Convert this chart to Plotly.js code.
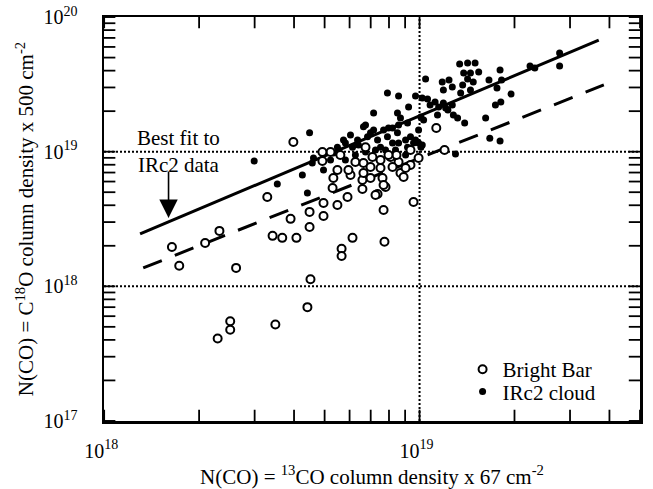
<!DOCTYPE html>
<html>
<head>
<meta charset="utf-8">
<script src="https://cdn.plot.ly/plotly-3.0.1.min.js"></script>
<style>html,body{margin:0;padding:0;background:#fff;}#chart{width:653px;height:489px;}</style>
</head>
<body>
<div id="chart"></div>
<script>
// values in units of 1e18 cm^-2
const brightBarX = [1.64,1.73,2.09,2.32,2.62,2.29,2.51,2.51,3.49,4.41,4.51,3.42,3.67,4.07,4.48,3.90,3.98,3.29,4.48,4.96,4.96,5.30,5.33,4.92,5.49,5.66,5.66,6.13,7.74,9.57,7.69,5.91,6.59,7.36,7.80,5.61,6.04,6.26,6.64,6.74,7.09,6.99,7.52,7.52,8.09,7.63,6.99,6.59,7.25,5.49,8.58,8.70,9.36,9.36,9.93,9.03,8.45,11.3,12.0,5.22,5.95,7.97,8.21,8.90,4.92,7.69,6.64];
const brightBarY = [1.96,1.42,2.10,2.58,1.37,0.41,0.55,0.475,0.52,0.70,1.13,2.37,2.29,2.29,2.76,3.17,11.8,4.61,3.57,4.16,3.33,5.38,6.38,8.53,7.31,1.90,1.68,2.29,2.14,4.23,3.69,4.61,5.29,4.85,5.47,9.45,6.71,8.38,8.25,10.8,9.13,7.70,8.68,7.57,9.13,6.38,6.38,6.17,4.77,4.02,8.38,6.95,10.3,7.97,8.98,7.57,9.45,15.0,10.3,9.95,7.31,9.45,7.70,6.49,9.95,5.66,6.95];

const irc2X = [2.99,3.54,4.41,4.25,4.48,4.61,4.57,4.96,5.53,5.82,6.40,8.58,9.93,9.16,10.45,7.91,8.58,9.23,9.71,10.2,7.15,8.51,6.64,7.15,7.69,7.97,8.58,9.16,10.1,9.93,6.04,5.74,6.36,7.36,9.71,6.84,9.36,5.49,10.6,10.8,11.2,11.4,11.5,11.9,12.3,12.7,12.8,13.2,13.9,13.4,14.2,15.0,13.8,14.5,15.4,14.2,14.8,13.7,12.4,11.8,12.7,11.9,13.5,14.5,16.6,18.0,17.6,18.2,19.5,17.4,18.1,16.2,16.7,18.0,13.0,10.3,10.2,12.1,27.8,27.8,22.4,23.2,6.74,6.99,8.21,8.70,8.51,9.03,9.57,10.1,5.33,6.13,7.52,7.91,8.21,5.22,5.82,6.74,8.39,9.03,7.80,7.25,6.26];
const irc2Y = [8.53,5.76,4.94,6.71,13.8,8.98,8.25,7.31,10.3,11.6,11.2,11.6,11.6,10.8,34.7,27.3,25.9,21.5,25.9,25.0,19.4,19.4,15.3,14.5,14.5,15.0,15.8,16.3,18.1,14.5,13.3,12.2,12.2,12.2,12.2,12.9,12.9,10.8,24.6,22.2,23.4,18.7,21.5,23.0,20.4,22.2,18.7,17.8,16.3,44.8,45.6,45.6,38.4,38.4,39.1,34.7,32.9,31.3,34.1,32.9,30.2,28.7,27.3,28.7,34.1,40.4,29.7,34.1,26.8,22.2,23.4,17.8,12.6,12.0,9.61,17.2,11.2,21.1,54.0,43.3,43.3,41.8,15.8,13.8,15.0,17.8,13.8,12.2,11.6,10.8,9.78,10.8,10.8,12.9,11.6,8.68,8.68,9.95,10.3,9.45,10.3,10.3,9.45];

// best fit to IRc2 data (solid) and second fit line (dashed), endpoints
const fitX = [1.30, 37.0];
const fitY = [2.45, 67.5];
const dashX = [1.33, 38.4];
const dashY = [1.37, 31.3];

// tick positions (units of 1e18) and decade labels
const xTickVals = [1,2,3,4,5,6,7,8,9,10,20,30,40,50];
const yTickVals = [0.1,0.2,0.3,0.4,0.5,0.6,0.7,0.8,0.9,1,2,3,4,5,6,7,8,9,10,20,30,40,50,60,70,80,90,100];
const decadeLabels = {0.1: '10<sup>17</sup>', 1: '10<sup>18</sup>', 10: '10<sup>19</sup>', 100: '10<sup>20</sup>'};
const xEdges = [1, 50];    // x axis limits (1e18 .. 5e19)
const yEdges = [0.1, 100]; // y axis limits (1e17 .. 1e20)
const xGridAt = [10];
const yGridAt = [1, 10];

const U = 1e18;
const sc = a => a.map(v => v * U);
const lbl = a => a.map(v => decadeLabels[v] || '');
const FONT = 'Liberation Serif, Times New Roman, serif';
const X_RANGE = [17.9995, Math.log10(5e19)];
const Y_RANGE = [16.9995, 20.0005];

// inward tick marks: short line markers centred on the frame, the outer half clipped by the plot area
const xt = sc(xTickVals), yt = sc(yTickVals);
const tickMarker = sym => ({symbol: sym, size: 16, color: 'black', line: {color: 'black', width: 1.8}});
const traces = [
  {x: xt.concat(xt), y: xt.map(() => yEdges[0] * U).concat(xt.map(() => yEdges[1] * U)),
   mode: 'markers', marker: tickMarker('line-ns'), cliponaxis: true, showlegend: false, hoverinfo: 'skip'},
  {x: yt.map(() => xEdges[0] * U).concat(yt.map(() => xEdges[1] * U)), y: yt.concat(yt),
   mode: 'markers', marker: tickMarker('line-ew'), cliponaxis: true, showlegend: false, hoverinfo: 'skip'},
  {x: sc(fitX), y: sc(fitY), mode: 'lines', line: {color: 'black', width: 3}, showlegend: false, hoverinfo: 'skip'},
  {x: sc(dashX), y: sc(dashY), mode: 'lines', line: {color: 'black', width: 3, dash: '20px,14px'}, showlegend: false, hoverinfo: 'skip'},
  {x: sc(irc2X), y: sc(irc2Y), mode: 'markers', name: 'IRc2 cloud', legend: 'legend2',
   marker: {symbol: 'circle', size: 7, color: 'black'}},
  {x: sc(brightBarX), y: sc(brightBarY), mode: 'markers', name: 'Bright Bar', legend: 'legend',
   marker: {symbol: 'circle', size: 8, color: 'white', line: {color: 'black', width: 2}}}
];

const base = {type: 'log', linecolor: 'black', linewidth: 2.5, showline: true, mirror: true,
  showgrid: false, zeroline: false, tickmode: 'array', ticks: '',
  tickfont: {family: FONT, size: 20, color: 'black'}};

const shapes = [];
const gridLine = {type: 'line', layer: 'below', line: {color: 'black', width: 2, dash: '2px,2px'}};
xGridAt.forEach(v => shapes.push(Object.assign({}, gridLine, {xref: 'x', yref: 'paper', x0: v * U, x1: v * U, y0: 0, y1: 1})));
yGridAt.forEach(v => shapes.push(Object.assign({}, gridLine, {xref: 'paper', yref: 'y', x0: 0, x1: 1, y0: v * U, y1: v * U})));

const layout = {
  width: 653, height: 489,
  margin: {l: 104, r: 13, t: 17, b: 68},
  paper_bgcolor: 'white', plot_bgcolor: 'white',
  font: {family: FONT, size: 21, color: 'black'},
  xaxis: Object.assign({}, base, {
    range: X_RANGE,
    tickvals: xt, ticktext: lbl(xTickVals),
    ticklabelstandoff: 10, ticklabelshift: -3,
    title: {text: 'N(CO) = <sup>13</sup>CO column density x 67 cm<sup>-2</sup>', font: {family: FONT, size: 21, color: 'black'}, standoff: 10}
  }),
  yaxis: Object.assign({}, base, {
    range: Y_RANGE,
    tickvals: yt, ticktext: lbl(yTickVals),
    ticklabelstandoff: 20,
    title: {text: 'N(CO) = C<sup>18</sup>O column density x 500 cm<sup>-2</sup>', font: {family: FONT, size: 21, color: 'black'}, standoff: 4}
  }),
  shapes: shapes,
  legend: {x: 0.669, y: 0.178, xanchor: 'left', yanchor: 'top', bgcolor: 'rgba(0,0,0,0)',
           font: {family: FONT, size: 21, color: 'black'}},
  legend2: {x: 0.669, y: 0.123, xanchor: 'left', yanchor: 'top', bgcolor: 'rgba(0,0,0,0)',
           font: {family: FONT, size: 21, color: 'black'}},
  annotations: [
    {xref: 'x', yref: 'y', x: Math.log10(1.72e18), y: 19, text: 'Best fit to<br>IRc2 data',
     showarrow: false, font: {family: FONT, size: 21, color: 'black'}, align: 'center'},
    {xref: 'x', yref: 'y', x: Math.log10(1.6e18), y: Math.log10(3.22e18), text: '',
     showarrow: true, ax: 0, ay: -48, arrowhead: 2, arrowsize: 2.3, arrowwidth: 1.6, arrowcolor: 'black', standoff: 0}
  ],
  showlegend: true
};

Plotly.newPlot('chart', traces, layout, {displayModeBar: false, staticPlot: true});
</script>
</body>
</html>
